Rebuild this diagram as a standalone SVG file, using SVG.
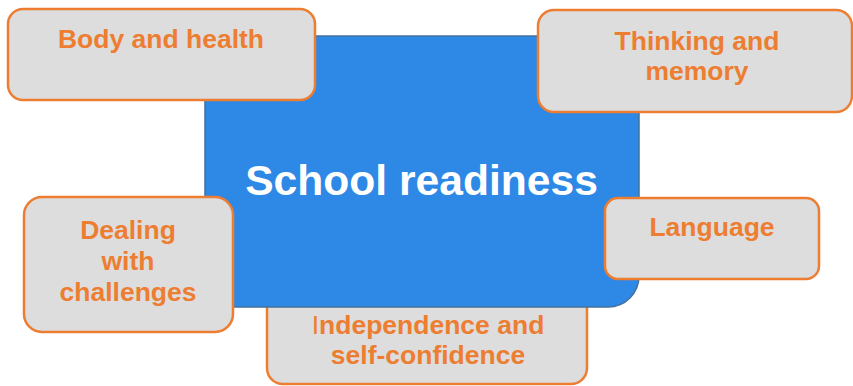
<svg xmlns="http://www.w3.org/2000/svg" width="853" height="386" viewBox="0 0 853 386">
<style>
.box{fill:#DDDDDD;stroke:#ED7D31;stroke-width:2.5}
.lbl{font-family:"Liberation Sans",Arial,sans-serif;font-weight:bold;font-size:26.5px;fill:#ED7D31;text-anchor:middle}
.main{font-family:"Liberation Sans",Arial,sans-serif;font-weight:bold;font-size:42.6px;fill:#FFFFFF;text-anchor:middle}
</style>
<rect width="853" height="386" fill="#FFFFFF"/>
<g id="independence">
<rect class="box" x="267" y="285" width="320" height="99" rx="16"/>
<text class="lbl" x="428" y="334"><tspan font-weight="normal">I</tspan>ndependence and</text>
<text class="lbl" x="428" y="364">self-confidence</text>
</g>
<g id="school-readiness">
<path d="M205,38 Q205,36 207,36 L637,36 Q639,36 639,38 L639,276 A31,31 0 0 1 608,307 L236,307 A31,31 0 0 1 205,276 Z" fill="#2E88E6" stroke="#41719C" stroke-width="1.5"/>
<text class="main" x="421.5" y="195">School readiness</text>
</g>
<g id="body-health">
<rect class="box" x="8" y="9" width="307" height="91" rx="15"/>
<text class="lbl" x="161" y="48">Body and health</text>
</g>
<g id="thinking-memory">
<rect class="box" x="538" y="10" width="314" height="102" rx="16"/>
<text class="lbl" x="697" y="50">Thinking and</text>
<text class="lbl" x="697" y="80">memory</text>
</g>
<g id="dealing-challenges">
<rect class="box" x="24" y="197" width="209" height="135" rx="18"/>
<text class="lbl" x="128" y="239">Dealing</text>
<text class="lbl" x="128" y="270">with</text>
<text class="lbl" x="128" y="301">challenges</text>
</g>
<g id="language">
<rect class="box" x="605" y="198" width="214" height="81" rx="13"/>
<text class="lbl" x="712" y="236">Language</text>
</g>
<g id="connectors"></g>
</svg>
